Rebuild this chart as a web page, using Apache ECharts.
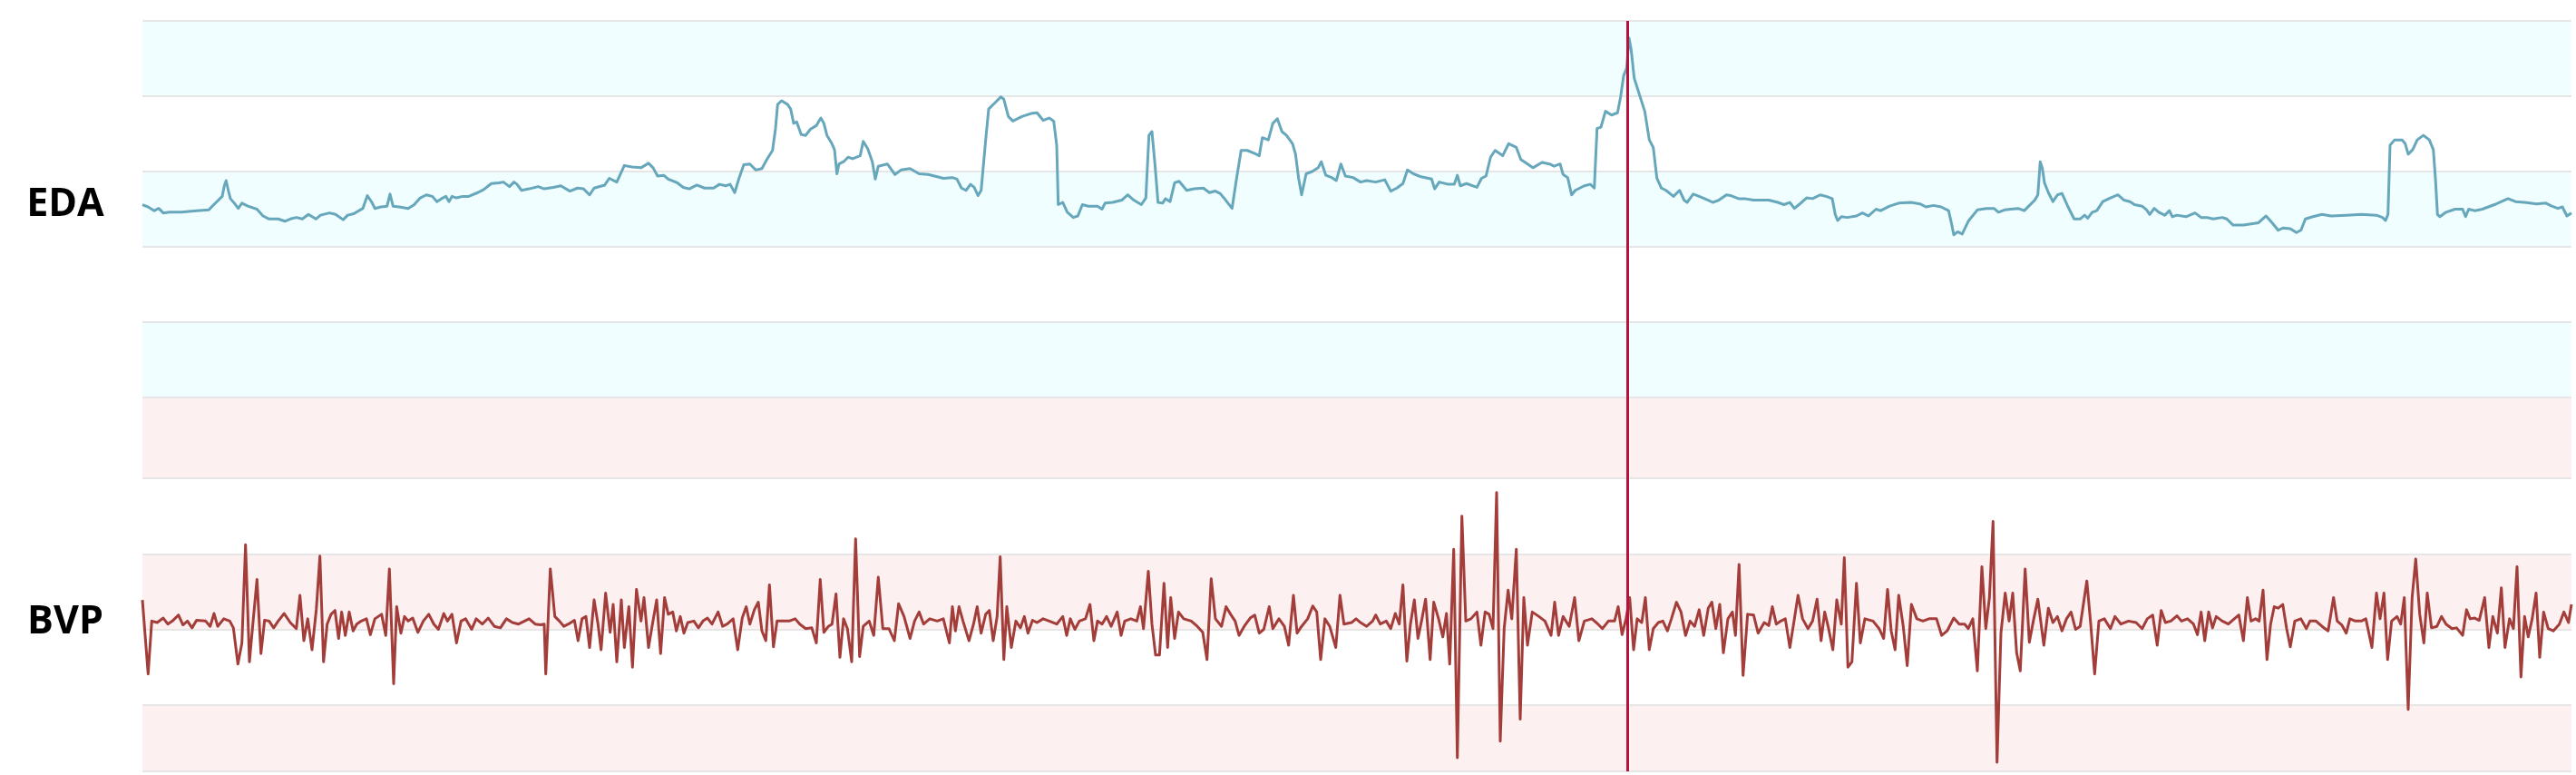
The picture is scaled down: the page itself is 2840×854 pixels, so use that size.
<!DOCTYPE html>
<html>
<head>
<meta charset="utf-8">
<script src="https://cdn.jsdelivr.net/npm/echarts@6/dist/echarts.min.js"></script>
<style>
html,body{margin:0;padding:0;background:#ffffff;}
#chart{width:2840px;height:854px;}
</style>
</head>
<body>
<div id="chart"></div>
<script>
// Time in seconds (0 .. 267.8)
const edaTime = [0.0,0.63,1.3,1.8,2.3,2.97,4.3,5.97,7.3,8.13,8.8,9.03,9.23,9.47,9.7,10.13,10.57,10.97,11.63,12.63,13.3,13.97,14.97,15.7,16.3,16.97,17.63,18.3,19.13,19.63,20.63,21.3,22.13,22.63,23.3,24.3,24.8,25.3,25.63,26.3,26.97,27.3,27.63,28.3,29.3,29.97,30.63,31.3,31.97,32.47,32.97,33.47,33.8,34.13,34.63,35.3,35.97,36.97,37.63,38.47,39.3,39.8,40.47,40.97,41.3,41.8,42.63,43.63,
44.3,45.3,46.13,47.13,47.97,48.63,49.3,49.8,50.97,51.47,52.3,53.13,53.97,54.97,55.8,56.3,56.8,57.47,57.97,58.97,59.63,60.3,61.13,61.97,62.97,63.63,64.3,64.8,65.3,65.8,66.3,66.97,67.63,68.3,68.8,69.47,69.8,70.03,70.47,71.13,71.47,71.8,72.13,72.63,73.13,73.63,74.3,74.8,75.13,75.47,75.97,76.3,76.57,76.8,77.3,77.8,78.3,79.13,79.47,79.97,80.47,80.8,81.13,81.8,82.13,82.97,83.63,84.63,85.63,86.63,87.63,88.3,89.3,
89.8,90.3,90.8,91.3,91.7,92.13,92.47,92.97,93.3,93.97,94.63,94.97,95.47,95.97,96.47,96.97,97.97,98.63,99.3,99.97,100.47,100.8,100.97,101.47,101.97,102.63,103.13,103.63,104.3,105.3,105.8,106.13,106.97,107.97,108.63,109.3,110.13,110.63,110.97,111.3,111.63,111.97,112.47,112.8,113.3,113.8,114.3,115.13,115.97,116.97,117.63,118.3,118.8,119.3,120.13,120.63,121.13,121.8,122.63,123.13,123.47,124.13,124.63,125.13,125.63,126.13,126.8,127.13,127.47,127.8,128.3,128.97,129.63,129.97,130.47,131.13,131.63,132.13,132.63,133.47,134.3,
134.97,135.97,136.97,137.63,138.3,138.97,139.47,140.13,140.97,142.13,142.47,142.97,143.97,144.63,144.97,145.3,145.97,147.13,147.63,148.13,148.63,149.13,149.97,150.63,151.47,151.97,153.3,154.3,155.13,155.63,156.3,156.63,157.13,157.57,157.97,158.97,159.63,160.07,160.37,160.8,161.3,161.97,162.63,162.97,163.3,163.63,163.9,164.13,164.47,164.97,165.63,166.13,166.57,166.97,167.47,167.97,168.8,169.47,169.97,170.3,170.97,171.63,172.63,173.13,173.8,174.63,175.13,175.97,176.63,177.63,178.63,179.3,
180.3,180.97,181.63,182.13,182.63,183.47,184.13,184.97,185.63,186.3,186.63,186.9,187.3,187.97,188.97,189.63,190.3,191.13,191.63,192.63,193.63,194.97,195.97,196.63,197.47,198.3,199.13,199.47,199.7,200.13,200.63,201.3,202.3,203.3,204.13,204.63,205.3,205.97,206.8,207.47,207.97,208.63,208.97,209.23,209.47,209.7,210.13,210.63,211.13,211.63,212.3,212.97,213.63,214.13,214.47,214.97,215.47,216.13,216.97,217.8,218.47,219.13,219.63,220.47,220.97,221.3,221.8,222.3,222.97,223.47,223.8,224.3,
225.3,226.3,226.97,227.63,228.3,229.3,229.8,230.47,231.63,232.8,233.3,234.13,234.8,235.47,235.97,236.8,237.47,237.97,238.47,239.3,240.3,241.3,242.97,244.63,246.3,246.97,247.3,247.57,247.8,248.3,249.13,249.47,249.8,250.3,250.8,251.47,252.13,252.57,252.8,253.03,253.3,253.97,254.97,255.8,256.13,256.47,257.13,257.97,259.3,260.8,261.63,262.63,263.97,264.97,265.63,266.3,266.8,267.3,267.8];

const edaValue = [2.56,2.53,2.48,2.51,2.45,2.46,2.46,2.48,2.49,2.59,2.67,2.81,2.88,2.75,2.64,2.58,2.51,2.58,2.54,2.50,2.41,2.37,2.37,2.34,2.37,2.39,2.37,2.43,2.37,2.42,2.45,2.43,2.36,2.42,2.44,2.51,2.68,2.59,2.51,2.53,2.54,2.70,2.54,2.53,2.51,2.56,2.65,2.69,2.67,2.60,2.64,2.67,2.60,2.67,2.65,2.67,2.67,2.72,2.76,2.84,2.85,2.86,2.80,2.86,2.83,2.75,2.77,2.80,
2.77,2.79,2.81,2.74,2.78,2.77,2.69,2.78,2.82,2.91,2.86,3.08,3.06,3.05,3.11,3.05,2.94,2.95,2.90,2.85,2.79,2.77,2.82,2.78,2.78,2.83,2.81,2.83,2.72,2.92,3.09,3.10,3.02,3.04,3.15,3.28,3.57,3.89,3.94,3.89,3.83,3.64,3.66,3.49,3.48,3.56,3.61,3.71,3.64,3.48,3.38,3.29,2.97,3.10,3.13,3.19,3.17,3.21,3.40,3.30,3.13,2.90,3.07,3.09,3.10,2.96,3.02,3.04,2.97,2.96,2.93,2.91,2.92,
2.90,2.78,2.75,2.83,2.79,2.68,2.75,3.42,3.83,3.91,3.99,3.96,3.73,3.67,3.70,3.73,3.77,3.78,3.68,3.71,3.67,3.35,2.56,2.59,2.46,2.39,2.41,2.56,2.54,2.54,2.50,2.58,2.59,2.62,2.69,2.62,2.56,2.65,3.48,3.53,3.10,2.59,2.58,2.64,2.60,2.85,2.87,2.75,2.77,2.78,2.72,2.74,2.71,2.64,2.51,2.91,3.28,3.28,3.24,3.21,3.45,3.42,3.64,3.70,3.53,3.48,3.37,3.23,2.91,2.69,2.97,3.00,3.05,3.13,2.95,2.92,2.88,3.10,2.94,2.92,2.86,
2.88,2.86,2.89,2.74,2.78,2.84,3.02,2.97,2.93,2.90,2.77,2.86,2.83,2.83,2.95,2.81,2.84,2.79,2.91,2.94,3.19,3.28,3.21,3.37,3.32,3.16,3.05,3.12,3.10,3.07,3.10,2.96,2.92,2.69,2.75,2.81,2.83,2.78,3.57,3.59,3.80,3.75,3.78,3.99,4.27,4.37,4.77,4.62,4.24,4.05,3.80,3.42,3.32,2.91,2.78,2.75,2.67,2.75,2.62,2.59,2.70,2.67,2.62,2.59,2.62,2.69,2.68,2.64,2.64,2.62,2.62,2.62,
2.59,2.56,2.59,2.51,2.56,2.65,2.64,2.69,2.67,2.64,2.43,2.35,2.40,2.39,2.41,2.45,2.41,2.50,2.48,2.54,2.58,2.59,2.57,2.53,2.55,2.53,2.48,2.30,2.16,2.20,2.17,2.34,2.49,2.51,2.51,2.46,2.49,2.50,2.51,2.48,2.54,2.62,2.69,3.13,3.04,2.85,2.72,2.60,2.69,2.71,2.53,2.37,2.37,2.42,2.38,2.46,2.48,2.60,2.65,2.69,2.62,2.60,2.56,2.54,2.49,2.43,2.51,2.46,2.42,2.48,2.40,2.42,
2.40,2.45,2.39,2.39,2.37,2.39,2.37,2.29,2.29,2.31,2.32,2.41,2.32,2.22,2.25,2.24,2.19,2.22,2.37,2.40,2.43,2.41,2.42,2.43,2.42,2.39,2.35,2.43,3.35,3.42,3.42,3.37,3.23,3.29,3.42,3.48,3.42,3.29,2.91,2.43,2.40,2.46,2.50,2.50,2.40,2.50,2.48,2.50,2.56,2.64,2.60,2.59,2.57,2.58,2.54,2.51,2.53,2.41,2.45];

const bvpTime = [0.0,0.63,1.03,1.63,2.3,2.8,3.3,3.97,4.47,4.97,5.47,5.97,6.97,7.47,7.9,8.3,8.97,9.63,10.03,10.53,10.97,11.37,11.8,12.23,12.63,13.07,13.47,13.97,14.47,14.97,15.63,16.3,16.97,17.37,17.8,18.23,18.7,19.17,19.57,19.97,20.37,20.8,21.23,21.63,21.97,22.37,22.8,23.23,23.63,24.13,24.7,25.13,25.63,26.37,26.83,27.23,27.7,28.03,28.5,28.9,29.3,29.8,30.37,30.97,31.57,32.13,32.63,33.23,33.63,34.13,34.63,35.13,35.63,36.3,36.8,37.47,38.13,38.8,39.47,40.13,40.8,41.47,42.13,42.63,43.3,43.9,
44.3,44.47,44.97,45.47,45.97,46.47,46.97,47.63,48.03,48.47,48.9,49.3,49.8,50.23,50.57,51.07,51.57,51.9,52.3,52.8,53.13,53.63,54.03,54.47,54.97,55.3,55.8,56.23,56.7,57.13,57.57,57.97,58.47,58.87,59.3,59.7,60.13,60.8,61.3,61.8,62.3,62.8,63.47,63.97,64.47,65.13,65.63,66.13,66.57,66.97,67.47,67.9,68.3,68.73,69.13,69.57,69.97,70.63,71.3,71.97,72.47,73.13,73.8,74.3,74.73,75.13,75.63,76.03,76.47,76.9,77.3,77.73,78.2,78.63,79.07,79.47,80.13,80.63,81.13,81.63,82.3,82.9,83.37,83.97,84.63,85.13,85.63,86.13,86.8,87.63,88.3,88.97,89.3,
89.63,90.03,90.47,91.13,91.63,92.03,92.47,92.97,93.37,93.8,94.23,94.57,94.97,95.3,95.8,96.3,96.8,97.23,97.63,98.13,98.63,99.3,99.97,100.8,101.47,101.9,102.3,102.8,103.3,103.97,104.47,104.9,105.3,105.8,106.3,106.8,107.47,107.9,108.3,108.97,109.63,110.03,110.37,110.9,111.3,111.7,112.13,112.63,113.03,113.37,113.8,114.23,114.8,115.63,116.3,116.9,117.37,117.83,118.3,118.97,119.47,119.97,120.47,120.9,121.47,122.13,122.63,123.13,123.63,124.23,124.63,125.3,125.9,126.37,126.9,127.3,127.8,128.47,129.03,129.47,129.9,130.37,130.9,131.57,132.03,132.47,133.3,133.8,134.3,
134.97,135.63,135.97,136.47,137.13,137.63,138.13,138.57,138.97,139.4,139.8,140.23,140.63,141.07,141.47,141.97,142.37,142.9,143.37,143.77,144.13,144.57,144.97,145.47,145.9,146.47,147.13,147.57,148.03,148.47,148.9,149.3,149.7,150.13,150.57,150.97,151.47,151.9,152.3,152.7,153.23,153.97,154.63,155.3,155.7,156.13,156.63,157.3,157.9,158.37,158.97,159.8,160.47,160.97,161.63,162.3,162.7,163.13,163.57,163.97,164.4,164.8,165.3,165.7,166.13,166.57,167.13,167.63,168.13,168.57,169.13,169.63,170.13,170.63,171.13,171.63,172.13,172.63,173.03,173.47,173.9,174.3,174.8,175.3,175.63,176.03,176.47,176.97,177.63,178.13,178.8,179.3,
179.7,180.13,180.63,181.13,181.63,182.13,182.53,183.03,183.63,184.13,184.63,185.07,185.47,185.9,186.37,186.8,187.3,187.63,188.03,188.47,188.97,189.4,189.9,190.8,191.47,191.97,192.4,192.8,193.23,193.63,194.13,194.57,195.03,195.63,196.3,196.97,197.8,198.37,198.97,199.7,200.3,200.9,201.3,201.8,202.3,202.8,203.23,203.63,204.03,204.47,204.9,205.37,205.8,206.2,206.63,207.03,207.57,208.03,208.47,208.97,209.63,210.13,210.63,211.13,211.63,212.13,212.63,213.13,213.63,214.37,214.8,215.23,215.7,216.3,216.97,217.47,218.13,218.97,219.8,220.47,221.03,221.63,222.13,222.57,223.03,223.63,224.3,
224.8,225.47,226.13,226.57,226.97,227.37,227.8,228.23,228.63,229.3,229.97,230.63,231.13,231.63,232.07,232.47,232.97,233.37,233.8,234.23,234.63,235.03,235.47,235.97,236.4,236.8,237.3,237.97,238.57,238.97,239.63,240.3,240.97,241.57,241.97,242.47,242.97,243.37,243.97,244.63,245.13,245.8,246.3,246.7,247.13,247.53,247.97,248.57,248.97,249.37,249.8,250.23,250.63,251.07,251.53,251.9,252.37,252.97,253.47,253.97,254.63,255.13,255.8,256.23,256.63,257.13,257.63,258.23,258.7,259.13,259.63,260.07,260.47,260.97,261.4,261.8,262.23,262.63,263.03,263.47,263.9,264.3,264.73,265.23,265.8,266.47,266.97,267.47,267.8];

const bvpValue = [0.39,-0.59,0.11,0.09,0.15,0.07,0.11,0.19,0.06,0.11,0.02,0.12,0.11,0.04,0.21,0.04,0.14,0.11,0.02,-0.46,-0.18,1.12,-0.43,0.14,0.66,-0.32,0.12,0.11,0.02,0.11,0.21,0.09,0.01,0.45,-0.15,0.14,-0.27,0.26,0.97,-0.43,0.07,0.20,0.25,-0.12,0.23,-0.08,0.23,-0.02,0.07,0.11,0.14,-0.07,0.14,0.20,-0.08,0.80,-0.72,0.30,-0.05,0.17,0.11,0.15,-0.04,0.11,0.20,0.07,0.00,0.21,0.11,0.20,-0.18,0.11,0.14,0.00,0.14,0.07,0.15,0.04,0.02,0.14,0.09,0.07,0.11,0.14,0.07,0.06,
0.07,-0.59,0.80,0.17,0.11,0.04,0.07,0.12,-0.15,0.14,0.17,-0.24,0.39,0.07,-0.27,0.48,-0.04,0.33,-0.43,0.39,-0.24,0.30,-0.50,0.53,0.11,0.42,-0.24,0.07,0.39,-0.32,0.42,0.20,0.23,-0.02,0.17,-0.05,0.09,0.11,0.02,0.11,0.15,0.07,0.23,0.04,0.07,0.14,-0.27,0.15,0.30,0.07,0.26,0.36,-0.02,-0.15,0.59,-0.23,0.11,0.11,0.11,0.14,0.07,0.01,0.02,-0.18,0.66,-0.04,0.04,0.07,0.47,-0.37,0.14,0.01,-0.43,1.20,-0.36,0.04,0.11,-0.08,0.69,0.01,0.01,-0.15,0.34,0.17,-0.12,0.11,0.23,0.07,0.14,0.11,0.14,-0.18,0.30,
-0.02,0.30,0.11,-0.15,0.07,0.30,-0.05,0.20,0.25,-0.15,0.17,0.96,-0.40,0.30,-0.24,0.11,0.02,0.17,-0.05,0.12,0.09,0.14,0.11,0.07,0.17,-0.08,0.14,0.00,0.11,0.14,0.33,-0.15,0.11,0.07,0.17,0.04,0.23,-0.08,0.11,0.14,0.11,0.30,0.01,0.77,0.07,-0.34,-0.34,0.61,-0.24,0.42,-0.12,0.23,0.14,0.11,0.04,-0.04,-0.40,0.67,0.14,0.04,0.30,0.20,0.11,-0.08,0.04,0.15,0.19,-0.05,0.00,0.30,0.01,0.14,0.04,-0.21,0.45,-0.05,0.04,0.14,0.31,0.23,-0.40,0.14,0.04,-0.24,0.45,0.07,0.09,0.14,0.09,
0.04,0.11,0.19,0.07,0.11,0.01,0.21,0.07,0.59,-0.42,0.07,0.39,-0.12,0.14,0.40,-0.40,0.36,0.14,-0.10,0.21,-0.46,1.06,-1.70,1.50,0.11,0.14,0.23,-0.21,0.23,0.20,0.01,1.81,-1.48,0.01,0.52,0.14,1.06,-1.19,0.42,-0.21,0.23,0.17,0.11,-0.08,0.36,-0.08,0.17,0.04,0.42,-0.15,0.11,0.14,0.07,0.01,0.11,0.11,0.30,-0.07,0.14,0.42,-0.27,0.14,0.09,0.42,-0.27,0.01,0.09,0.11,-0.02,0.14,0.36,0.23,-0.08,0.11,0.04,0.26,-0.08,0.28,0.36,0.01,0.33,-0.31,0.14,0.23,-0.08,0.86,-0.61,0.20,0.19,-0.05,0.09,0.05,
0.30,0.07,0.11,0.14,-0.24,0.14,0.45,0.14,0.01,0.11,0.40,-0.15,0.23,0.01,-0.27,0.39,0.07,0.95,-0.50,-0.43,0.61,-0.18,0.14,0.11,0.01,-0.12,0.53,-0.02,-0.27,0.45,0.04,-0.48,0.33,0.14,0.11,0.14,0.14,-0.08,-0.02,0.15,0.07,0.07,0.01,0.14,-0.55,0.83,0.01,0.42,1.43,-1.76,-0.05,0.48,0.11,0.48,-0.31,-0.55,0.80,-0.17,0.11,0.40,-0.21,0.28,0.09,0.17,-0.02,0.14,0.23,0.00,0.04,0.64,0.07,-0.59,0.11,0.14,0.01,0.17,0.07,0.11,0.09,0.01,0.14,0.19,-0.21,0.25,0.09,0.11,0.18,
0.11,0.14,0.07,-0.07,0.23,-0.15,0.23,0.02,0.17,0.11,0.07,0.14,0.19,-0.15,0.42,0.11,0.14,0.11,0.52,-0.40,0.07,0.30,0.28,0.33,0.01,-0.23,0.11,0.14,0.01,0.11,0.11,0.04,-0.02,0.42,0.11,0.06,-0.05,0.14,0.11,0.11,0.14,-0.24,0.48,0.14,0.48,-0.40,0.11,0.17,0.07,0.42,-1.06,0.42,0.93,0.20,-0.18,0.48,0.02,0.04,0.17,0.07,0.01,0.02,-0.08,0.26,0.14,0.15,0.12,0.42,-0.24,0.17,-0.05,0.55,-0.24,0.14,0.01,0.83,-0.63,0.17,-0.10,0.14,0.48,-0.37,0.23,0.01,-0.02,0.07,0.23,0.09,0.33];

const markerTime = 163.75;
const rowLabels = ['EDA', 'BVP'];
const timeMax = 267.8;
const edaAxis = {min: 0, max: 5, interval: 1};
const bvpTicks = [-1.88, -1, 0, 1, 2, 3.07];

const chart = echarts.init(document.getElementById('chart'), null, {renderer: 'canvas'});
const pair = (ts, vs) => ts.map((t, i) => [t, vs[i]]);
const splitLineStyle = {color: '#e6e6e6', width: 2};
const marker = {
  silent: true, symbol: ['none', 'none'], animation: false,
  label: {show: false},
  lineStyle: {color: '#b5123e', width: 3, type: 'solid'},
  emphasis: {disabled: true},
  data: [{xAxis: markerTime}]
};
chart.setOption({
  animation: false,
  backgroundColor: '#ffffff',
  grid: [
    {left: 157, right: 5, top: 23, height: 415},
    {left: 157, right: 5, top: 438, height: 412}
  ],
  xAxis: [
    {gridIndex: 0, type: 'value', min: 0, max: timeMax, show: false},
    {gridIndex: 1, type: 'value', min: 0, max: timeMax, show: false}
  ],
  yAxis: [
    {gridIndex: 0, type: 'value', min: edaAxis.min, max: edaAxis.max, interval: edaAxis.interval,
     axisLine: {show: false}, axisTick: {show: false}, axisLabel: {show: false},
     splitLine: {show: true, lineStyle: splitLineStyle},
     splitArea: {show: true, areaStyle: {color: ['#f0feff', '#ffffff']}}},
    {gridIndex: 1, type: 'value', min: bvpTicks[0], max: bvpTicks[bvpTicks.length - 1],
     axisLine: {show: false}, axisTick: {show: false, customValues: bvpTicks},
     axisLabel: {show: false, customValues: bvpTicks},
     splitLine: {show: true, lineStyle: splitLineStyle},
     splitArea: {show: true, areaStyle: {color: ['#fdf0f0', '#ffffff']}}}
  ],
  series: [
    {type: 'line', name: rowLabels[0], xAxisIndex: 0, yAxisIndex: 0, data: pair(edaTime, edaValue),
     showSymbol: false, symbol: 'none', lineStyle: {color: '#67a7bb', width: 3, join: 'round'},
     itemStyle: {color: '#67a7bb'}, markLine: marker},
    {type: 'line', name: rowLabels[1], xAxisIndex: 1, yAxisIndex: 1, data: pair(bvpTime, bvpValue),
     showSymbol: false, symbol: 'none', lineStyle: {color: '#a33d3a', width: 3, join: 'round'},
     itemStyle: {color: '#a33d3a'}, markLine: marker}
  ],
  graphic: [
    {type: 'text', x: 72, y: 226, silent: true,
     style: {text: rowLabels[0], fill: '#000000', font: 'bold 43px "Open Sans"', align: 'center', verticalAlign: 'middle'}},
    {type: 'text', x: 72, y: 686, silent: true,
     style: {text: rowLabels[1], fill: '#000000', font: 'bold 43px "Open Sans"', align: 'center', verticalAlign: 'middle'}}
  ]
});
</script>
</body>
</html>
